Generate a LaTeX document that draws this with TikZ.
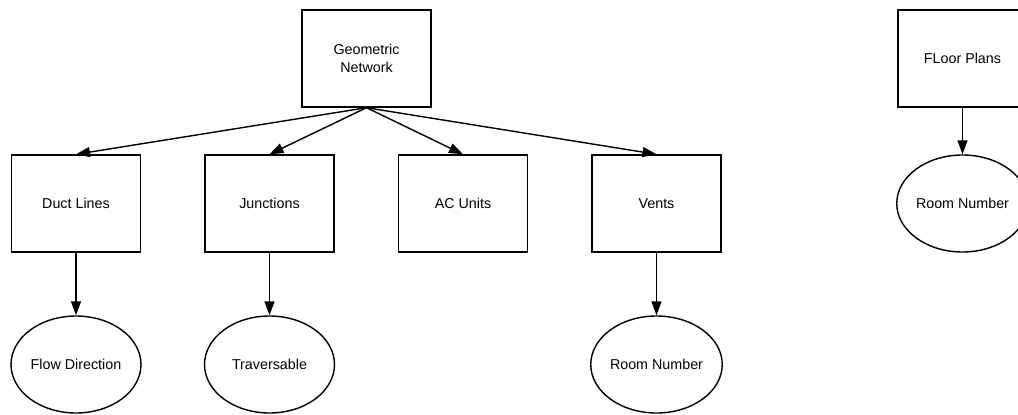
\documentclass[tikz,border=0pt]{standalone}
\usepackage{fontspec}
\setmainfont{Liberation Sans}
\usepackage{tikz}
\usetikzlibrary{shapes.geometric, arrows.meta}

\begin{document}
\begin{tikzpicture}[x=1pt, y=-1pt, line width=1.4pt,
    >={Triangle[length=14pt, width=10pt]},
    every node/.style={font=\fontsize{14.3}{17.5}\selectfont, align=center, inner sep=0pt},
    box/.style={draw, rectangle, minimum width=129pt, minimum height=97pt},
    attr/.style={draw, ellipse, minimum width=130pt, minimum height=97pt}]
    \useasboundingbox (0, 0) rectangle (1018, 415);

    \node[box] at (366.5, 58.5) (GN) {Geometric\\Network};
    \node[box] at (76, 203.5) (DL) {Duct Lines};
    \node[box] at (269.5, 203.5) (J) {Junctions};
    \node[box] at (463, 203.5) (AC) {AC Units};
    \node[box] at (656.5, 203.5) (V) {Vents};
    \node[attr] at (76, 364.5) (FD) {Flow Direction};
    \node[attr] at (269.5, 364.5) (T) {Traversable};
    \node[attr] at (656.5, 364.5) (RN) {Room Number};

    \node[box] at (962.5, 58.5) (FP) {FLoor Plans};
    \node[attr] at (962.5, 203.5) (FR) {Room Number};

    \draw[->] (GN.south) -- (DL.north);
    \draw[->] (GN.south) -- (J.north);
    \draw[->] (GN.south) -- (AC.north);
    \draw[->] (GN.south) -- (V.north);
    \draw[->] (DL) -- (FD);
    \draw[->] (J) -- (T);
    \draw[->] (V) -- (RN);
    \draw[->] (FP) -- (FR);
\end{tikzpicture}
\end{document}
